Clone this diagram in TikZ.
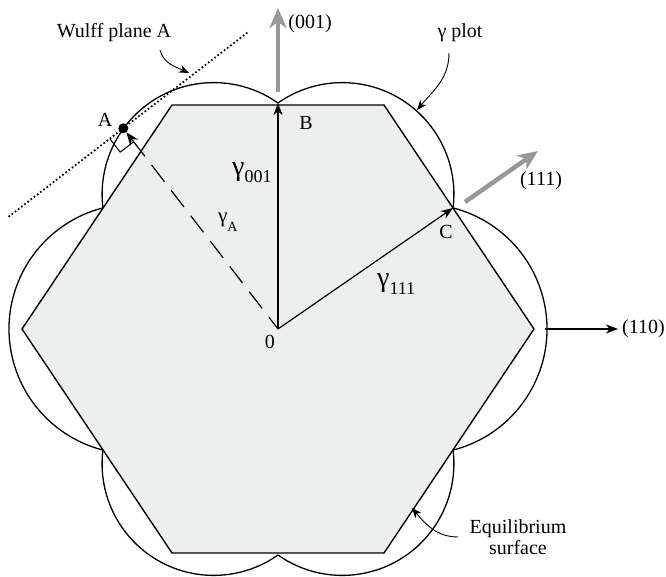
\documentclass[tikz,border=0pt]{standalone}
\usepackage{fontspec}
\setmainfont{Liberation Serif}
\usetikzlibrary{arrows.meta}
\definecolor{hexfill}{RGB}{237,238,238}
\definecolor{arrowgrey}{RGB}{152,152,152}
\begin{document}
\begin{tikzpicture}[x=1pt,y=1pt,
  lbl/.style={font=\fontsize{20}{22}\selectfont, inner sep=0pt},
  hexedge/.style={line width=1.4pt, line join=miter, fill=hexfill},
  lobe/.style={line width=1.3pt},
  vec/.style={line width=1.2pt, -{Stealth[length=12pt,width=9pt,inset=3.5pt]}},
  bigarrow/.style={line width=4.5pt, draw=arrowgrey, -{Stealth[length=20pt,width=17pt,inset=6pt,fill=arrowgrey]}},
  callout/.style={line width=0.9pt, -{Stealth[length=10pt,width=8pt,inset=3pt]}},
  wulff/.style={line width=1.8pt, dash pattern=on 1.6pt off 2.4pt},
  radial/.style={line width=1.2pt, dash pattern=on 21pt off 11pt, dash phase=6pt, -{Stealth[length=13pt,width=10pt,inset=4pt]}},
]
\useasboundingbox (-278,-248) rectangle (388,329);
% key points
\coordinate (O) at (0,0);
\coordinate (B) at (0,226);
\coordinate (C) at (175,121);
\coordinate (A) at (-154.7,200.7);
% hexagon (equilibrium surface)
\draw[hexedge] (-256,0) -- (-106,224) -- (106,224) -- (256,0) -- (106,-224) -- (-106,-224) -- cycle;
% gamma plot lobes
\draw[lobe] ([shift={(-7.1:111.6)}]64.3,134.8) arc[start angle=-7.1, end angle=125.2, radius=111.6];
\draw[lobe] ([shift={(54.8:111.6)}]-64.3,134.8) arc[start angle=54.8, end angle=187.1, radius=111.6];
\draw[lobe] ([shift={(104.4:125)}]-144,0) arc[start angle=104.4, end angle=255.6, radius=125];
\draw[lobe] ([shift={(172.9:111.6)}]-64.3,-134.8) arc[start angle=172.9, end angle=305.2, radius=111.6];
\draw[lobe] ([shift={(-125.2:111.6)}]64.3,-134.8) arc[start angle=-125.2, end angle=7.1, radius=111.6];
\draw[lobe] ([shift={(-75.6:125)}]144,0) arc[start angle=-75.6, end angle=75.6, radius=125];
% Wulff plane through A
\coordinate (W1) at (-269.5,112.2);
\coordinate (W2) at (-29.6,297.2);
\draw[wulff] (W1) -- (W2);
% right-angle mark at A
\draw[line width=1pt] (-168.2,190.3) -- (-157.8,176.9) -- (-144.3,187.2);
% radius vectors
\draw[radial, shorten >=5pt] (O) -- (A);
\draw[vec] (O) -- (B);
\draw[vec] (O) -- (C);
\fill (A) circle[radius=5];
% direction arrows
\coordinate (D1s) at (0,237);
\coordinate (D1e) at (0,321);
\draw[bigarrow] (D1s) -- (D1e);
\coordinate (D2s) at (187,127);
\coordinate (D2e) at (260,178);
\draw[bigarrow] (D2s) -- (D2e);
\coordinate (D3s) at (267,0);
\coordinate (D3e) at (340,0);
\draw[vec] (D3s) -- (D3e);
% labels
\node[lbl] (lA) at (-173,209) {A};
\node[lbl] (lB) at (28,206) {B};
\node[lbl] (lC) at (168,97) {C};
\node[lbl] (lO) at (-8,-13) {0};
\node[lbl] (l001) at (32,305) {(001)};
\node[lbl] (l111) at (263,148) {(111)};
\node[lbl, anchor=west] (l110) at (344,0) {(110)};
\node[inner sep=0pt, anchor=base west] (g001) at (-46,153)
  {{\fontsize{28}{28}\selectfont γ}{\fontsize{18}{18}\selectfont\raisebox{-7pt}{001}}};
\node[inner sep=0pt, anchor=base west] (g111) at (99,42)
  {{\fontsize{28}{28}\selectfont γ}{\fontsize{18}{18}\selectfont\raisebox{-8pt}{111}}};
\node[inner sep=0pt, anchor=base west] (gA) at (-60,106)
  {{\fontsize{21}{21}\selectfont γ}{\fontsize{14}{14}\selectfont\raisebox{-9pt}{A}}};
% callouts
\node[lbl] (wl) at (-164,296) {Wulff plane A};
\coordinate (wls) at (-118,279);
\coordinate (wle) at (-89,256);
\draw[callout] (wls) to[out=-75, in=155] (wle);
\node[lbl] (gp) at (182,296) {γ plot};
\coordinate (gps) at (171,276);
\coordinate (gpe) at (139,219);
\draw[callout] (gps) to[out=-90, in=50] (gpe);
\node[lbl, align=center, font=\fontsize{20}{21}\selectfont] (eq) at (240,-208) {Equilibrium\\surface};
\coordinate (eqs) at (180,-208);
\coordinate (eqe) at (134,-179);
\draw[callout] (eqs) to[out=180, in=-50] (eqe);
\end{tikzpicture}
\end{document}
